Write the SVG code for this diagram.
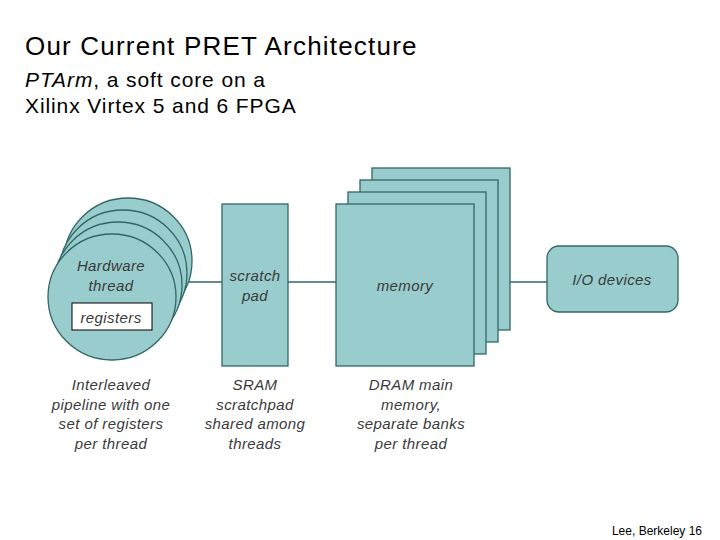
<svg xmlns="http://www.w3.org/2000/svg" width="720" height="540" viewBox="0 0 720 540">
<style>
.s{fill:#99cccc;stroke:#336666;stroke-width:1.3}
.t{font-family:"Liberation Sans",Arial,sans-serif;font-style:italic;font-size:15px;fill:#3a3a3a;text-anchor:middle;letter-spacing:0.4px}
.h{font-family:"Liberation Sans",Arial,sans-serif;fill:#000}
</style>
<rect width="720" height="540" fill="#fff"/>
<text class="h" x="25" y="55" font-size="26" letter-spacing="1.2">Our Current PRET Architecture</text>
<text class="h" x="25" y="87" font-size="21" letter-spacing="0.9"><tspan font-style="italic">PTArm</tspan>, a soft core on a</text>
<text class="h" x="25" y="113" font-size="21" letter-spacing="0.9">Xilinx Virtex 5 and 6 FPGA</text>
<g id="connectors" stroke="#336666" stroke-width="1.3">
<line x1="185" y1="282" x2="222" y2="282"/>
<line x1="288" y1="282" x2="336" y2="282"/>
<line x1="510" y1="282" x2="547" y2="282"/>
</g>
<g id="thread">
<ellipse class="s" cx="128" cy="261" rx="64" ry="63"/>
<ellipse class="s" cx="123" cy="273" rx="64" ry="63"/>
<ellipse class="s" cx="118" cy="285" rx="64" ry="63"/>
<ellipse class="s" cx="112" cy="297" rx="64" ry="63"/>
<text class="t" x="111" y="271">Hardware</text>
<text class="t" x="111" y="291">thread</text>
<rect x="72" y="303" width="80" height="27" fill="#fff" stroke="#000" stroke-width="1"/>
<text class="t" x="111" y="323">registers</text>
</g>
<g id="scratch">
<rect class="s" x="222" y="204" width="66" height="162"/>
<text class="t" x="255" y="281">scratch</text>
<text class="t" x="255" y="301">pad</text>
</g>
<g id="memory">
<rect class="s" x="372" y="168" width="138" height="162"/>
<rect class="s" x="360" y="180" width="138" height="162"/>
<rect class="s" x="348" y="192" width="138" height="162"/>
<rect class="s" x="336" y="204" width="138" height="162"/>
<text class="t" x="405" y="291">memory</text>
</g>
<g id="io">
<rect class="s" x="547" y="246" width="131" height="66" rx="12"/>
<text class="t" x="612" y="285">I/O devices</text>
</g>
<g id="captions">
<text class="t" x="111" y="390">Interleaved</text>
<text class="t" x="111" y="410">pipeline with one</text>
<text class="t" x="111" y="429">set of registers</text>
<text class="t" x="111" y="449">per thread</text>
<text class="t" x="255" y="390">SRAM</text>
<text class="t" x="255" y="410">scratchpad</text>
<text class="t" x="255" y="429">shared among</text>
<text class="t" x="255" y="449">threads</text>
<text class="t" x="411" y="390">DRAM main</text>
<text class="t" x="411" y="410">memory,</text>
<text class="t" x="411" y="429">separate banks</text>
<text class="t" x="411" y="449">per thread</text>
</g>
<text class="h" x="702" y="535" font-size="12" text-anchor="end">Lee, Berkeley 16</text>
</svg>
